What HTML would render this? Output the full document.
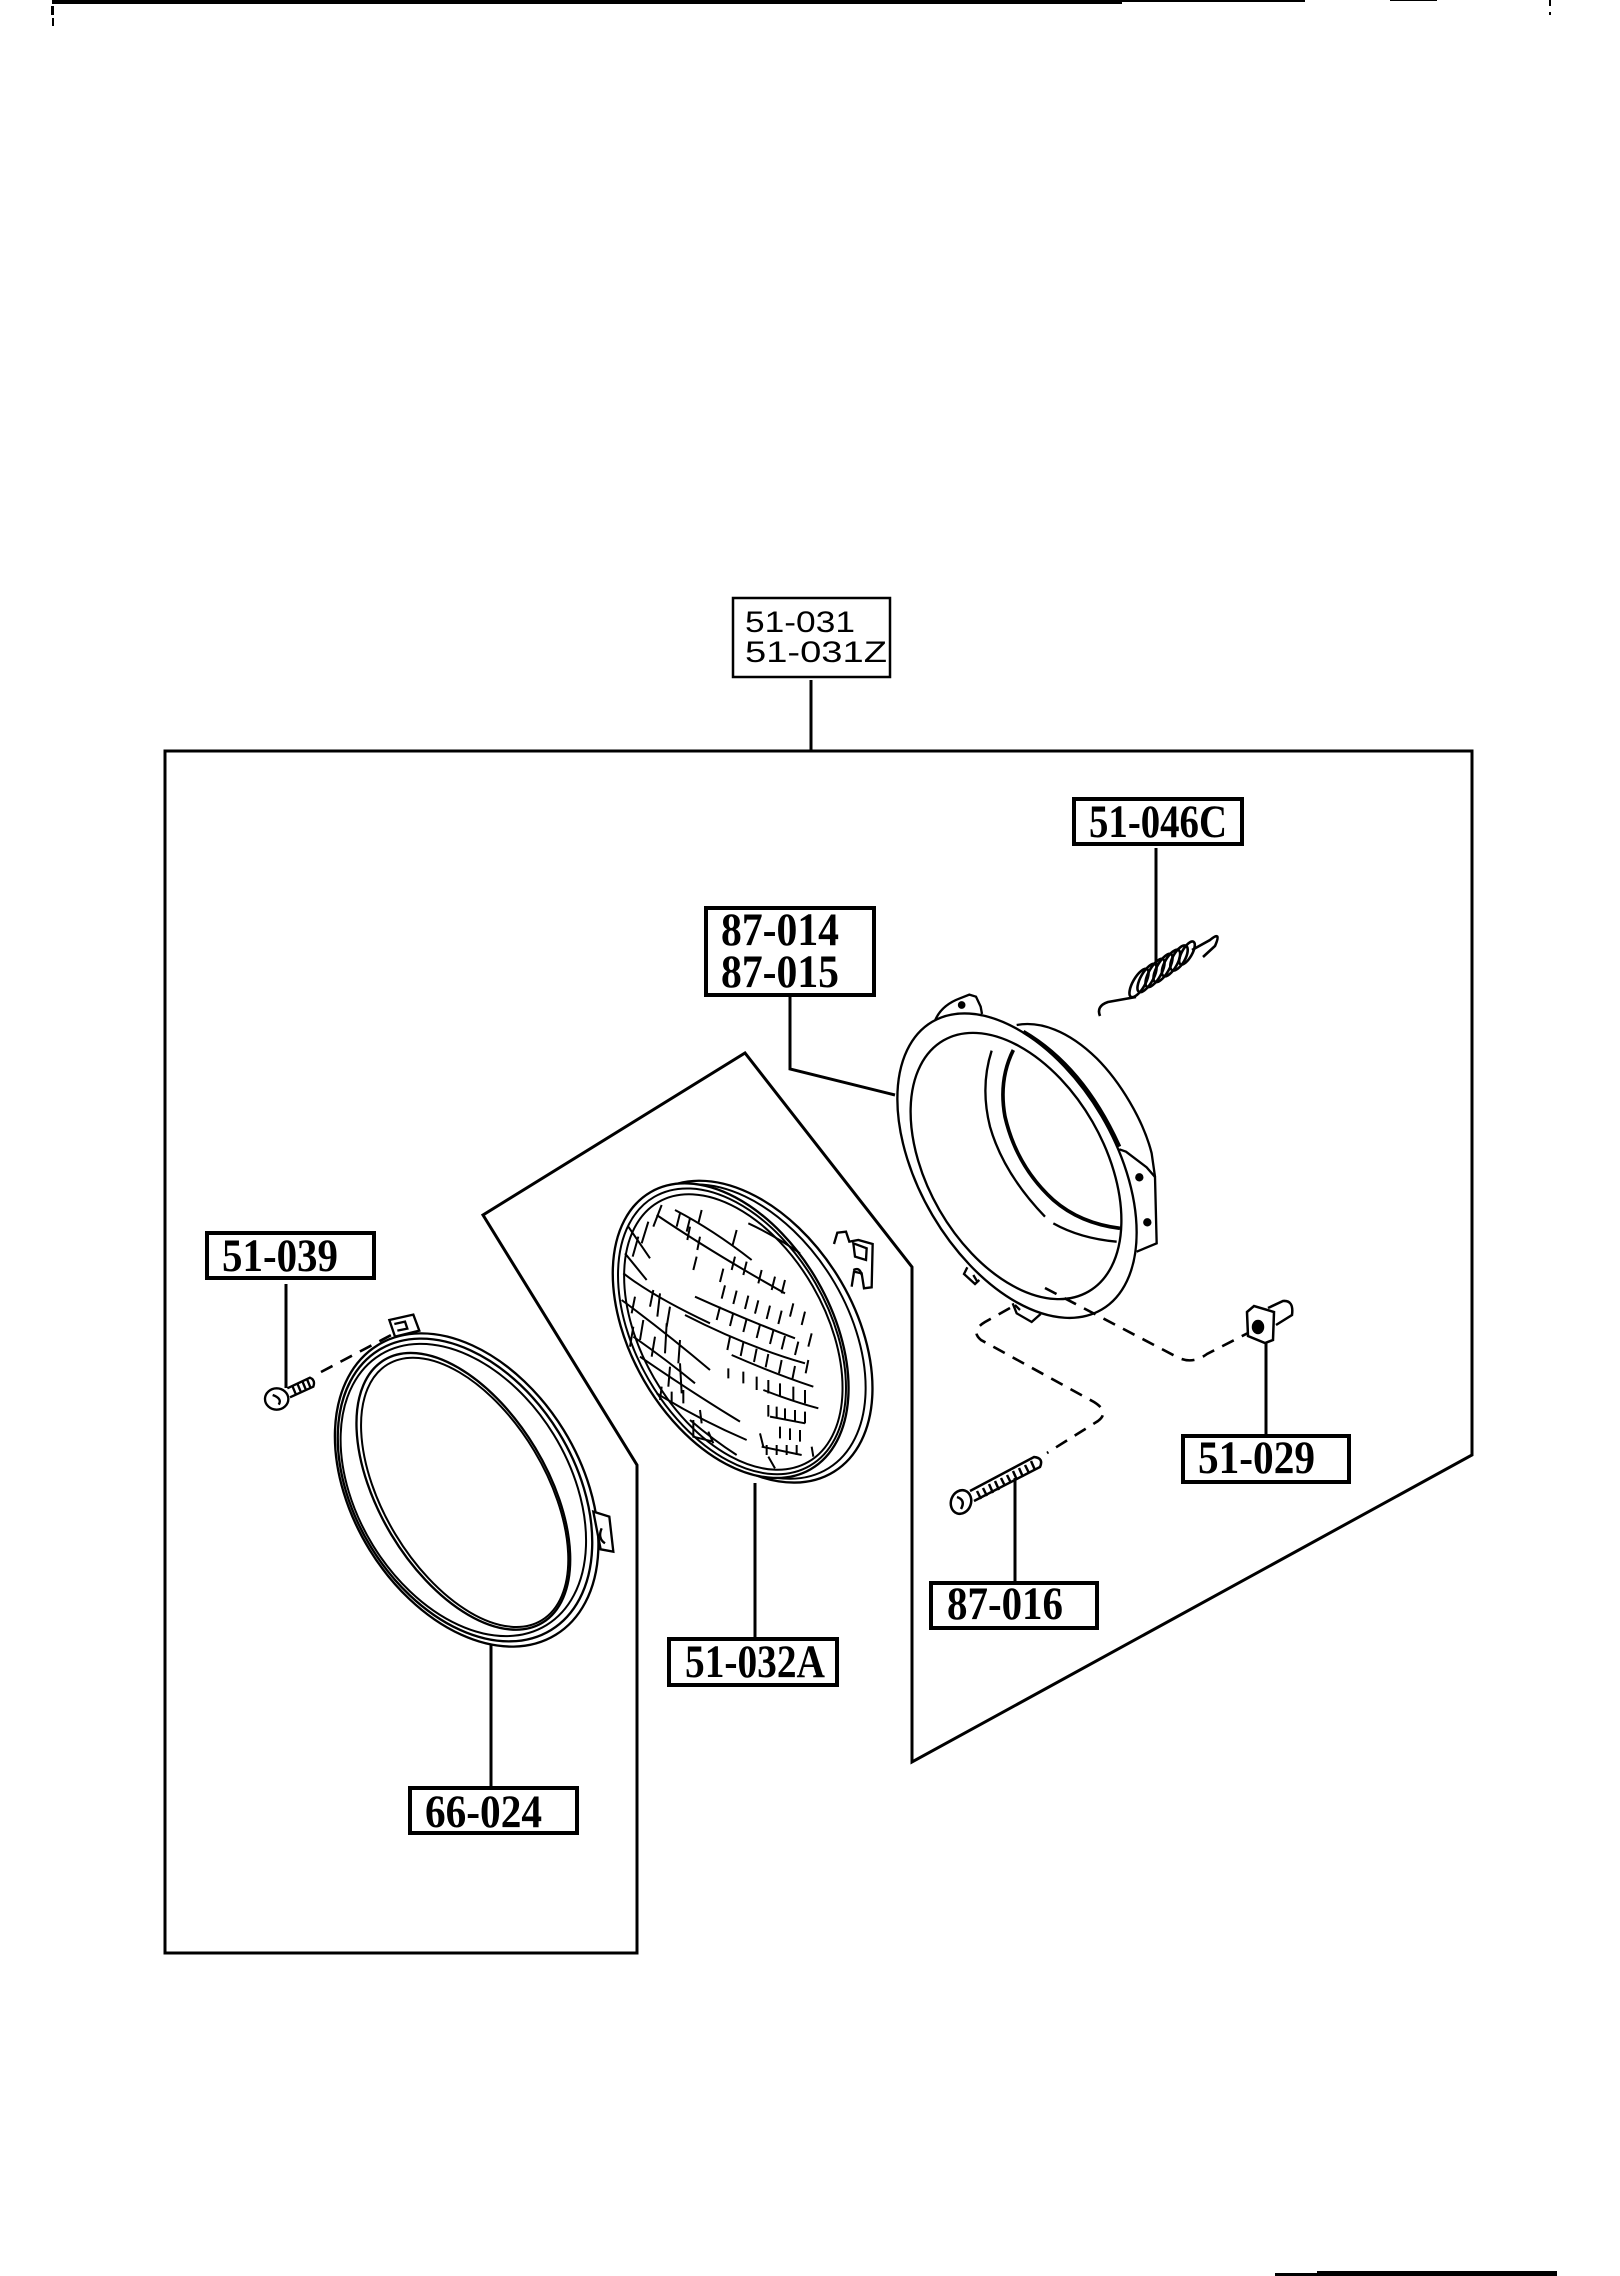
<!DOCTYPE html>
<html><head><meta charset="utf-8"><style>
html,body{margin:0;padding:0;background:#fff}
svg{display:block}
.lbl{font-family:"Liberation Serif",serif;font-weight:bold;font-size:47px;fill:#000}
.lbl2{font-family:"Liberation Sans",sans-serif;font-size:30px;fill:#000}
</style></head><body>
<svg width="1620" height="2276" viewBox="0 0 1620 2276" xmlns="http://www.w3.org/2000/svg">
<rect width="1620" height="2276" fill="#fff"/>

<!-- page edge marks -->
<rect x="52" y="0" width="1070" height="4" fill="#000"/>
<rect x="1120" y="0" width="185" height="2" fill="#000"/>
<rect x="1390" y="0" width="47" height="1" fill="#000"/>
<rect x="51" y="6" width="3" height="9" fill="#000"/>
<rect x="52" y="18" width="2" height="8" fill="#000"/>
<rect x="1549" y="0" width="2" height="6" fill="#000"/>
<rect x="1549" y="12" width="2" height="3" fill="#000"/>
<rect x="1317" y="2271" width="240" height="5" fill="#000"/>
<rect x="1275" y="2273" width="42" height="3" fill="#000"/>

<g fill="none" stroke="#000" stroke-linejoin="miter">
<!-- main frame -->
<path d="M165,751 L1472,751 L1472,1455 L912,1762 L912,1267 L745,1053 L483,1215 L637,1465 L637,1953 L165,1953 Z" stroke-width="3"/>

<!-- leaders -->
<path d="M811,680 L811,751" stroke-width="3"/>
<path d="M790,995 L790,1069 L895,1095" stroke-width="3"/>
<path d="M1156,848 L1156,965" stroke-width="3"/>
<path d="M286,1284 L286,1388" stroke-width="3"/>
<path d="M491,1645 L491,1788" stroke-width="3"/>
<path d="M755,1483 L755,1639" stroke-width="3"/>
<path d="M1015,1478 L1015,1583" stroke-width="3"/>
<path d="M1266,1343 L1266,1436" stroke-width="3"/>

<!-- label boxes -->
<rect x="733" y="598" width="157" height="79" stroke-width="2.5"/>
<rect x="207" y="1233" width="167" height="45" stroke-width="4"/>
<rect x="1074" y="799" width="168" height="45" stroke-width="4"/>
<rect x="706" y="908" width="168" height="87" stroke-width="4"/>
<rect x="1183" y="1436" width="166" height="46" stroke-width="4"/>
<rect x="931" y="1583" width="166" height="45" stroke-width="4"/>
<rect x="410" y="1788" width="167" height="45" stroke-width="4"/>
<rect x="669" y="1639" width="168" height="46" stroke-width="4"/>

<!-- dashed lines -->
<g stroke-width="2.6" stroke-dasharray="13 9">
<path d="M321,1372 L395,1333"/>
<path d="M1010,1308 L985,1322 Q970,1331 981,1340 L1094,1402 Q1110,1412 1098,1421 L1047,1453"/>
<path d="M1045,1288 L1177,1357 Q1192,1365 1207,1354 L1250,1332"/>
</g>

<!-- LEFT RING 66-024 (zoom coords) -->
<g transform="translate(150 1200) scale(0.33333)" stroke-width="7">
<ellipse cx="950" cy="870" rx="510" ry="342" transform="rotate(58.4 950 870)"/>
<ellipse cx="945" cy="870" rx="493" ry="330" transform="rotate(58.4 945 870)"/>
<ellipse cx="940" cy="870" rx="476" ry="318" transform="rotate(58.4 940 870)" stroke-width="6"/>
<ellipse cx="940" cy="874" rx="460" ry="252" transform="rotate(59 940 874)"/>
<ellipse cx="944" cy="877" rx="448" ry="243" transform="rotate(59 944 877)" stroke-width="6"/>
<path d="M718,360 L790,344 L808,392 L735,410 Z" fill="#fff"/>
<path d="M733,372 L765,365 L772,386 L742,392"/>
<path d="M1330,935 L1378,950 L1390,1055 L1352,1048 Z" fill="#fff"/>
<path d="M1355,985 Q1342,1015 1365,1030"/>
<!-- screw 51-039 -->
<ellipse cx="380" cy="597" rx="35" ry="32" fill="#fff"/>
<path d="M368,585 Q398,596 386,614"/>
<path d="M412,565 L480,533 Q497,540 490,560 L420,592"/>
<path d="M428,560 L438,584 M443,553 L453,577 M458,546 L468,570 M472,540 L481,562"/>
</g>

<!-- LAMP 51-032A (zoom coords) -->
<g transform="translate(480 1040) scale(0.33333)" stroke-width="7">
<ellipse cx="800" cy="875" rx="495" ry="320" transform="rotate(58 800 875)" fill="#fff"/>
<ellipse cx="790" cy="875" rx="483" ry="310" transform="rotate(58 790 875)" stroke-width="6"/>
<ellipse cx="752" cy="872" rx="480" ry="300" transform="rotate(60 752 872)" fill="#fff"/>
<ellipse cx="756" cy="874" rx="466" ry="289" transform="rotate(60 756 874)" stroke-width="6"/>
<ellipse cx="760" cy="876" rx="450" ry="275" transform="rotate(60 760 876)" stroke-width="6"/>
<!-- connector -->
<path d="M1062,612 L1072,578 L1098,575 L1108,605 L1135,600 L1178,612 L1175,742 L1152,745 L1145,700 L1122,695 L1115,740" fill="#fff"/>
<path d="M1120,610 L1160,625 L1158,660 L1125,650 Z"/>
<path d="M1120,690 Q1140,680 1145,705"/>
<!-- hatch long lines -->
<g stroke-width="6">
<path d="M585,510 Q700,570 815,660"/>
<path d="M530,525 Q700,640 915,760"/>
<path d="M645,770 Q800,840 945,895"/>
<path d="M615,825 Q800,920 975,970"/>
<path d="M755,945 Q880,1000 1000,1040"/>
<path d="M850,1050 Q940,1085 1015,1105"/>
<path d="M870,1130 L975,1150"/>
<path d="M845,1220 L965,1245"/>
<path d="M805,550 Q890,590 960,640"/>
<path d="M445,560 L510,655"/>
<path d="M435,640 L500,720"/>
<path d="M430,700 Q520,770 690,850"/>
<path d="M425,780 Q560,880 690,990"/>
<path d="M460,890 Q560,960 645,1030"/>
<path d="M480,950 Q640,1060 780,1145"/>
<path d="M530,1060 Q660,1140 800,1200"/>
<path d="M630,1140 Q700,1200 770,1245"/>
<path d="M640,1140 L640,1190 L700,1205"/>
<path d="M840,1180 L850,1220"/>
<!-- short dashes -->
<path d="M600,520 l-10,40 M630,535 l-10,40 M665,510 l-10,40 M770,570 l-12,45 M630,560 l-8,40 M660,590 l-8,40
M650,650 l-10,40 M730,686 l-10,40 M765,650 l-10,40 M800,665 l-10,40 M845,690 l-10,40 M885,710 l-10,40 M915,720 l-10,40
M735,736 l-10,40 M770,752 l-10,40 M805,767 l-10,40 M835,781 l-10,40 M870,797 l-10,40 M905,812 l-10,40 M940,790 l-10,40 M975,815 l-10,40
M720,800 l-10,40 M760,818 l-10,40 M800,836 l-10,40 M840,854 l-10,40 M880,872 l-10,40 M915,888 l-10,40 M955,905 l-10,40 M995,880 l-10,40
M750,890 l-8,40 M790,908 l-8,40 M830,926 l-8,40 M865,942 l-8,40 M905,960 l-8,40 M945,978 l-8,40 M985,960 l-8,40
M745,985 l0,30 M790,995 l0,35 M830,1010 l0,40 M865,1020 l0,40 M900,1030 l0,40 M940,1040 l0,40 M975,1050 l0,40
M865,1095 l0,35 M890,1100 l0,35 M915,1105 l0,35 M945,1110 l0,35 M975,1115 l0,35
M900,1160 l0,35 M930,1165 l0,35 M960,1170 l0,35
M860,1215 l0,30 M890,1215 l0,30 M920,1215 l0,30 M950,1215 l0,30 M995,1220 l5,30 M865,1250 l20,35
M545,495 l-25,65 M505,545 l-20,65 M475,590 l-17,60 M520,750 l-10,50 M540,760 l-8,70 M570,800 l-10,60
M465,770 l-10,50 M490,840 l-10,60 M460,860 l-10,60 M525,890 l-10,60 M560,850 l-5,90 M600,900 l-5,70
M600,970 l5,90 M570,980 l-5,60 M545,1040 l-5,40 M610,1050 l0,40 M575,1055 l0,30 M660,1110 l5,40 M685,1175 l15,35"/>
</g>
</g>

<!-- RIGHT RING 87-014 (zoom coords) -->
<g transform="translate(880 960) scale(0.33333)" stroke-width="7">
<path d="M410,195 C480,182 565,212 650,295 C720,365 790,480 815,580 L825,650 L830,850 L770,875"/>
<ellipse cx="411" cy="617" rx="501" ry="294" transform="rotate(59.5 411 617)"/>
<ellipse cx="408" cy="618" rx="435" ry="265" transform="rotate(60 408 618)"/>
<path d="M430,215 Q610,320 718,560" stroke-width="12"/>
<path d="M335,272 Q300,380 330,500 Q370,640 495,770"/>
<path d="M520,790 Q600,835 710,845"/>
<path d="M400,270 Q355,360 375,470 Q410,620 520,720 Q600,790 720,805" stroke-width="11"/>
<path d="M718,568 L738,575 L800,622 L826,652"/>
<circle cx="778" cy="652" r="9" fill="#000"/>
<circle cx="802" cy="787" r="9" fill="#000"/>
<path d="M165,182 C178,150 205,128 240,115 L268,104 L288,110 L302,140 L306,162"/>
<circle cx="245" cy="135" r="8" fill="#000"/>
<path d="M262,922 L252,942 L285,972 L298,960 M280,945 L292,965"/>
<path d="M398,1030 L410,1060 L455,1086 L482,1062 M405,1035 L420,1050"/>
</g>

<!-- spring 51-046C -->
<g stroke-width="2.6">
<ellipse cx="1139" cy="983" rx="6" ry="16" transform="rotate(30 1139 983)"/>
<ellipse cx="1147" cy="978" rx="6" ry="16" transform="rotate(30 1147 978)"/>
<ellipse cx="1155" cy="973" rx="6" ry="16" transform="rotate(30 1155 973)"/>
<ellipse cx="1163" cy="968" rx="6" ry="16" transform="rotate(30 1163 968)"/>
<ellipse cx="1171" cy="963" rx="6" ry="15" transform="rotate(30 1171 963)"/>
<ellipse cx="1179" cy="958" rx="6" ry="14" transform="rotate(30 1179 958)"/>
<ellipse cx="1187" cy="953" rx="5" ry="13" transform="rotate(30 1187 953)"/>
<path d="M1136,997 L1108,1002 Q1096,1006 1100,1016"/>
<path d="M1192,950 L1210,940 Q1222,930 1215,946 L1203,957"/>
</g>

<!-- nut 51-029 -->
<g stroke-width="2.5">
<path d="M1268,1308 L1283,1301 Q1294,1300 1292,1315 L1276,1325"/>
<path d="M1247,1312 L1254,1306 L1274,1312 L1273,1340 L1265,1343 L1248,1336 Z" fill="#fff"/>
<ellipse cx="1258" cy="1327" rx="5" ry="6" fill="#000"/>
</g>

<!-- screw 87-016 -->
<g stroke-width="2.5">
<path d="M970,1491 L1034,1457 Q1044,1458 1040,1467 L974,1501"/>
<path d="M977,1491 L981,1499 M983,1488 L987,1496 M989,1484 L993,1493 M995,1481 L999,1490 M1001,1478 L1005,1486 M1007,1475 L1011,1483 M1013,1471 L1017,1480 M1019,1468 L1023,1477 M1025,1465 L1029,1473 M1031,1461 L1035,1470"/>
<ellipse cx="961" cy="1502" rx="10" ry="12" transform="rotate(20 961 1502)" fill="#fff"/>
<path d="M957,1497 Q966,1500 961,1509"/>
</g>
</g>

<!-- label text -->
<text class="lbl2" x="745" y="632" textLength="110" lengthAdjust="spacingAndGlyphs">51-031</text>
<text class="lbl2" x="745" y="662" textLength="142" lengthAdjust="spacingAndGlyphs">51-031Z</text>
<text class="lbl" x="222" y="1271" textLength="116" lengthAdjust="spacingAndGlyphs">51-039</text>
<text class="lbl" x="1089" y="837" textLength="138" lengthAdjust="spacingAndGlyphs">51-046C</text>
<text class="lbl" x="721" y="945" textLength="118" lengthAdjust="spacingAndGlyphs">87-014</text>
<text class="lbl" x="721" y="987" textLength="118" lengthAdjust="spacingAndGlyphs">87-015</text>
<text class="lbl" x="1198" y="1473" textLength="117" lengthAdjust="spacingAndGlyphs">51-029</text>
<text class="lbl" x="947" y="1619" textLength="116" lengthAdjust="spacingAndGlyphs">87-016</text>
<text class="lbl" x="425" y="1827" textLength="117" lengthAdjust="spacingAndGlyphs">66-024</text>
<text class="lbl" x="685" y="1677" textLength="140" lengthAdjust="spacingAndGlyphs">51-032A</text>
</svg>
</body></html>
